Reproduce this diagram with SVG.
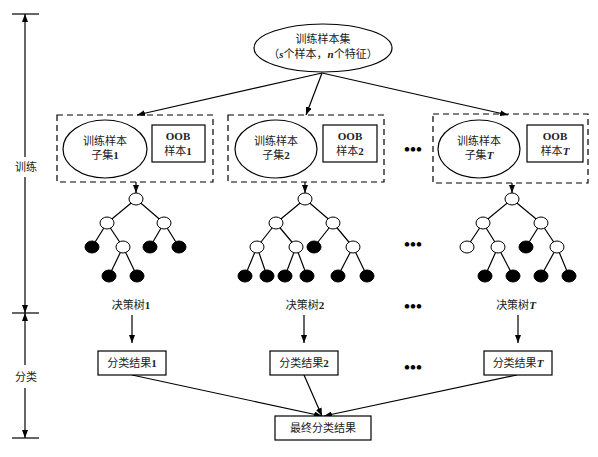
<svg xmlns="http://www.w3.org/2000/svg" width="598" height="457" viewBox="0 0 598 457">
<defs>
<marker id="ah" markerUnits="userSpaceOnUse" markerWidth="8" markerHeight="6" refX="8" refY="3" orient="auto">
<path d="M0,0 L8,3 L0,6 z" fill="#000"/>
</marker>
<style>
.ln{stroke:#000;stroke-width:1.2;fill:none}
.ar{stroke:#000;stroke-width:1.2;fill:none;marker-end:url(#ah)}
.dash{stroke:#000;stroke-width:1.2;fill:none;stroke-dasharray:6,4}
.box{stroke:#000;stroke-width:1.2;fill:#fff}
.w{stroke:#000;stroke-width:1;fill:#fff}
.b{stroke:#000;stroke-width:1;fill:#000}
text{font-family:"Liberation Serif","Noto Sans CJK SC",serif;font-size:11px;fill:#222;text-anchor:middle}
.bd{font-weight:bold}
.it{font-weight:bold;font-style:italic}
.dt{font-size:17px;font-weight:bold;fill:#000}
</style>
</defs>
<g id="axis">
<line class="ln" x1="12" y1="14" x2="39" y2="14"/>
<line class="ln" x1="12" y1="313" x2="39" y2="313"/>
<line class="ln" x1="12" y1="438" x2="39" y2="438"/>
<line class="ar" x1="25" y1="157" x2="25" y2="14"/>
<line class="ar" x1="25" y1="177" x2="25" y2="313"/>
<line class="ar" x1="25" y1="365" x2="25" y2="313"/>
<line class="ar" x1="25" y1="388" x2="25" y2="438"/>
<text x="26" y="171">训练</text>
<text x="26" y="381">分类</text>
</g>
<g id="connectors">
<line class="ar" x1="322" y1="73" x2="137" y2="115"/>
<line class="ar" x1="322" y1="73" x2="306" y2="115"/>
<line class="ar" x1="322" y1="73" x2="508" y2="115"/>
<line class="ar" x1="136" y1="182" x2="136" y2="193"/>
<line class="ar" x1="305" y1="182" x2="305" y2="193"/>
<line class="ar" x1="512" y1="183" x2="512" y2="193"/>
<line class="ar" x1="132" y1="315" x2="132" y2="343"/>
<line class="ar" x1="304" y1="315" x2="304" y2="343"/>
<line class="ar" x1="518" y1="315" x2="518" y2="343"/>
<line class="ar" x1="132" y1="375" x2="322" y2="416"/>
<line class="ar" x1="304" y1="375" x2="322" y2="416"/>
<line class="ar" x1="517" y1="375" x2="324" y2="416"/>
</g>
<g id="root">
<ellipse class="box" cx="323" cy="48" rx="69" ry="24"/>
<text x="323" y="43" font-size="12">训练样本集</text>
<text x="323" y="58">（<tspan class="it">s</tspan>个样本，<tspan class="it">n</tspan>个特征）</text>
</g>
<g id="subset1">
<rect class="dash" x="57" y="115" width="156" height="67"/>
<ellipse class="box" cx="105" cy="149" rx="42" ry="29"/>
<text x="105" y="145">训练样本</text>
<text x="105" y="159">子集<tspan class="bd">1</tspan></text>
<rect class="box" x="152" y="125" width="53" height="37"/>
<text x="178" y="140" class="bd">OOB</text>
<text x="178" y="155">样本<tspan class="bd">1</tspan></text>
</g>
<g id="subset2">
<rect class="dash" x="228" y="115" width="156" height="67"/>
<ellipse class="box" cx="276" cy="149" rx="41" ry="29"/>
<text x="276" y="145">训练样本</text>
<text x="276" y="159">子集<tspan class="bd">2</tspan></text>
<rect class="box" x="323" y="125" width="54" height="37"/>
<text x="350" y="140" class="bd">OOB</text>
<text x="350" y="155">样本<tspan class="bd">2</tspan></text>
</g>
<g id="subsetT">
<rect class="dash" x="433" y="114" width="155" height="69"/>
<ellipse class="box" cx="479" cy="149" rx="41" ry="29"/>
<text x="479" y="145">训练样本</text>
<text x="479" y="159">子集<tspan class="it">T</tspan></text>
<rect class="box" x="527" y="125" width="56" height="37"/>
<text x="555" y="140" class="bd">OOB</text>
<text x="555" y="155">样本<tspan class="it">T</tspan></text>
</g>
<g id="tree1">
<path class="ln" d="M136,199 L107,223 M136,199 L164,223 M107,223 L92,247 M107,223 L123,247 M123,247 L109,276 M123,247 L137,276 M164,223 L150,247 M164,223 L179,247"/>
<ellipse class="w" cx="136" cy="199" rx="7" ry="6"/>
<ellipse class="w" cx="107" cy="223" rx="7" ry="6"/>
<ellipse class="w" cx="164" cy="223" rx="7" ry="6"/>
<ellipse class="b" cx="92" cy="247" rx="7" ry="6"/>
<ellipse class="w" cx="123" cy="247" rx="7" ry="6"/>
<ellipse class="b" cx="150" cy="247" rx="7" ry="6"/>
<ellipse class="b" cx="179" cy="247" rx="7" ry="6"/>
<ellipse class="b" cx="109" cy="276" rx="7" ry="6"/>
<ellipse class="b" cx="137" cy="276" rx="7" ry="6"/>
<text x="131" y="309">决策树<tspan class="bd">1</tspan></text>
</g>
<g id="tree2">
<path class="ln" d="M305,199 L276,223 M305,199 L333,223 M276,223 L257,247 M276,223 L296,247 M333,223 L314,247 M333,223 L353,247 M257,247 L245,276 M257,247 L267,276 M296,247 L285,276 M296,247 L307,276 M353,247 L338,276 M353,247 L367,276"/>
<ellipse class="w" cx="305" cy="199" rx="7" ry="6"/>
<ellipse class="w" cx="276" cy="223" rx="7" ry="6"/>
<ellipse class="w" cx="333" cy="223" rx="7" ry="6"/>
<ellipse class="w" cx="257" cy="247" rx="7" ry="6"/>
<ellipse class="w" cx="296" cy="247" rx="7" ry="6"/>
<ellipse class="b" cx="314" cy="247" rx="7" ry="6"/>
<ellipse class="w" cx="353" cy="247" rx="7" ry="6"/>
<ellipse class="b" cx="245" cy="276" rx="7" ry="6"/>
<ellipse class="b" cx="267" cy="276" rx="7" ry="6"/>
<ellipse class="b" cx="285" cy="276" rx="7" ry="6"/>
<ellipse class="b" cx="307" cy="276" rx="7" ry="6"/>
<ellipse class="b" cx="338" cy="276" rx="7" ry="6"/>
<ellipse class="b" cx="367" cy="276" rx="7" ry="6"/>
<text x="305" y="309">决策树<tspan class="bd">2</tspan></text>
</g>
<g id="treeT">
<path class="ln" d="M512,199 L483,223 M512,199 L541,223 M483,223 L467,247 M483,223 L498,247 M498,247 L485,276 M498,247 L513,276 M541,223 L526,247 M541,223 L557,247 M557,247 L541,276 M557,247 L569,276"/>
<ellipse class="w" cx="512" cy="199" rx="7" ry="6"/>
<ellipse class="w" cx="483" cy="223" rx="7" ry="6"/>
<ellipse class="w" cx="541" cy="223" rx="7" ry="6"/>
<ellipse class="w" cx="467" cy="247" rx="7" ry="6"/>
<ellipse class="w" cx="498" cy="247" rx="7" ry="6"/>
<ellipse class="b" cx="526" cy="247" rx="7" ry="6"/>
<ellipse class="w" cx="557" cy="247" rx="7" ry="6"/>
<ellipse class="b" cx="485" cy="276" rx="7" ry="6"/>
<ellipse class="b" cx="513" cy="276" rx="7" ry="6"/>
<ellipse class="b" cx="541" cy="276" rx="7" ry="6"/>
<ellipse class="b" cx="569" cy="276" rx="7" ry="6"/>
<text x="516" y="309">决策树<tspan class="it">T</tspan></text>
</g>
<g id="result1">
<rect class="box" x="98" y="351" width="68" height="24"/>
<text x="132" y="367">分类结果<tspan class="bd">1</tspan></text>
</g>
<g id="result2">
<rect class="box" x="270" y="351" width="68" height="24"/>
<text x="304" y="367">分类结果<tspan class="bd">2</tspan></text>
</g>
<g id="resultT">
<rect class="box" x="484" y="351" width="68" height="24"/>
<text x="518" y="367">分类结果<tspan class="it">T</tspan></text>
</g>
<g id="final">
<rect class="box" x="275" y="416" width="96" height="24"/>
<text x="323" y="432">最终分类结果</text>
</g>
<g id="dots">
<text class="dt" x="413" y="155">•••</text>
<text class="dt" x="413" y="250">•••</text>
<text class="dt" x="413" y="312">•••</text>
<text class="dt" x="413" y="373">•••</text>
</g>
</svg>
